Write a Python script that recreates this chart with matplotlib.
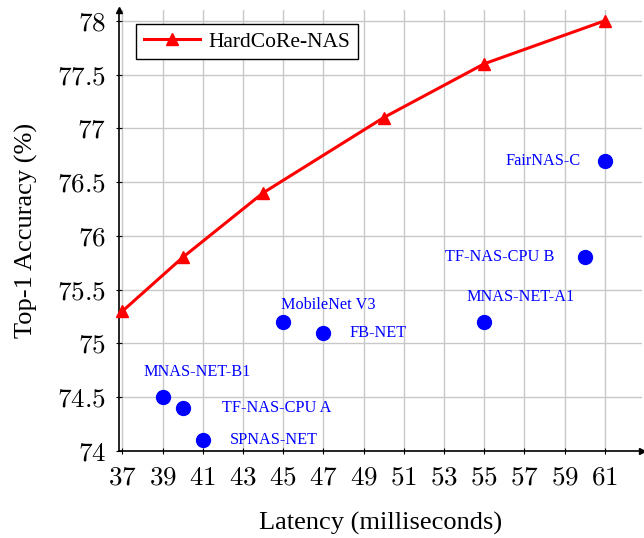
import matplotlib.pyplot as plt
from matplotlib.ticker import FuncFormatter

# HardCoRe-NAS curve
hc_latency = [37, 40, 44, 50, 55, 61]
hc_acc = [75.3, 75.8, 76.4, 77.1, 77.6, 78.0]

# Other networks
names = ["MNAS-NET-B1", "TF-NAS-CPU A", "SPNAS-NET", "MobileNet V3", "FB-NET",
         "MNAS-NET-A1", "TF-NAS-CPU B", "FairNAS-C"]
other_latency = [39, 40, 41, 45, 47, 55, 60, 61]
other_acc = [74.5, 74.4, 74.1, 75.2, 75.1, 75.2, 75.8, 76.7]

# label offsets in pixels and alignment
label_pos = [(35, 25, "center"), (39, 0, "left"), (27, 0, "left"), (-2, 17, "left"),
             (26, 0, "left"), (36, 25, "center"), (-30, 0, "right"), (-24, 0, "right")]

xticks = list(range(37, 62, 2))
yticks = [74, 74.5, 75, 75.5, 76, 76.5, 77, 77.5, 78]

plt.rcParams["font.family"] = "Liberation Serif"
plt.rcParams["mathtext.fontset"] = "cm"

fig = plt.figure(figsize=(6.44, 5.38), dpi=100)
ax = fig.add_axes([119 / 644, 87 / 538, 523 / 644, 441 / 538])

ax.plot(hc_latency, hc_acc, color="red", lw=2.2, marker="^", markersize=9,
        label="HardCoRe-NAS", zorder=3, clip_on=False)
ax.plot(other_latency, other_acc, "o", color="blue", markersize=10, zorder=3,
        clip_on=False)

for name, x, y, (dx, dy, ha) in zip(names, other_latency, other_acc, label_pos):
    ax.annotate(name, (x, y), xytext=(dx, dy), textcoords="offset pixels",
                ha=ha, va="center", color="blue", fontsize=11.7)

ax.set_xlim(36.83, 62.85)
ax.set_ylim(74, 78.1)
ax.set_xticks(xticks)
ax.set_yticks(yticks)
fmt = FuncFormatter(lambda v, p: f"${v:g}$")
ax.xaxis.set_major_formatter(fmt)
ax.yaxis.set_major_formatter(fmt)
ax.tick_params(labelsize=19.5, direction="inout", length=5, width=0.8)
ax.tick_params(axis="x", pad=8)
ax.tick_params(axis="y", pad=7)
ax.grid(True, color="#c8c8c8", lw=1)
ax.set_axisbelow(True)

for s in ["top", "right"]:
    ax.spines[s].set_visible(False)
ax.spines["left"].set_linewidth(1.2)
ax.spines["bottom"].set_linewidth(1.2)
ax.plot(1, 0, marker=">", color="k", markersize=4, transform=ax.transAxes, clip_on=False)
ax.plot(0, 1, marker="^", color="k", markersize=4, transform=ax.transAxes, clip_on=False)

ax.set_xlabel("Latency (milliseconds)", fontsize=19, labelpad=15)
ax.set_ylabel("Top-1 Accuracy (%)", fontsize=19, labelpad=14)

leg = ax.legend(loc="upper left", bbox_to_anchor=(0.033, 0.968), borderaxespad=0,
                fontsize=15.5, fancybox=False, edgecolor="black", framealpha=1,
                handlelength=2.6, handletextpad=0.4, borderpad=0.35)
leg.get_frame().set_linewidth(1)

fig.savefig("out.png", dpi=100)
